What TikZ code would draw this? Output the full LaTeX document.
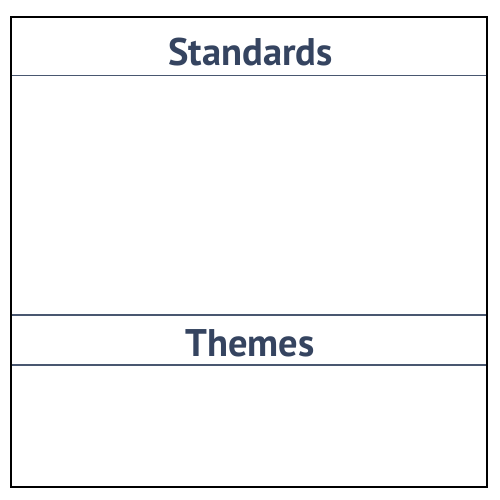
\documentclass[tikz,border=0pt]{standalone}
\usepackage{fontspec}
\setmainfont{PT Sans}
\definecolor{slate}{HTML}{354460}
\begin{document}
\begin{tikzpicture}[x=1pt,y=1pt,
  sep/.style={draw=slate!90!white,line width=1.8pt},
  title/.style={font=\bfseries\fontsize{38.5}{44}\selectfont,text=slate,inner sep=0pt}]
\useasboundingbox (0,0) rectangle (500,500);
\fill[white] (0,0) rectangle (500,500);
\node[draw=black,line width=2pt,minimum width=476pt,minimum height=470pt,inner sep=0pt] (frame) at (249,248) {};
\coordinate (a1) at (12,424.5); \coordinate (a2) at (486,424.5);
\coordinate (b1) at (12,185); \coordinate (b2) at (486,185);
\coordinate (c1) at (12,135); \coordinate (c2) at (486,135);
\draw[sep] (a1) -- (a2);
\draw[sep] (b1) -- (b2);
\draw[sep] (c1) -- (c2);
\node[title,anchor=base] (std) at (250.5,434.5) {Standards};
\node[title,anchor=base] (thm) at (250,143) {Themes};
\end{tikzpicture}
\end{document}
